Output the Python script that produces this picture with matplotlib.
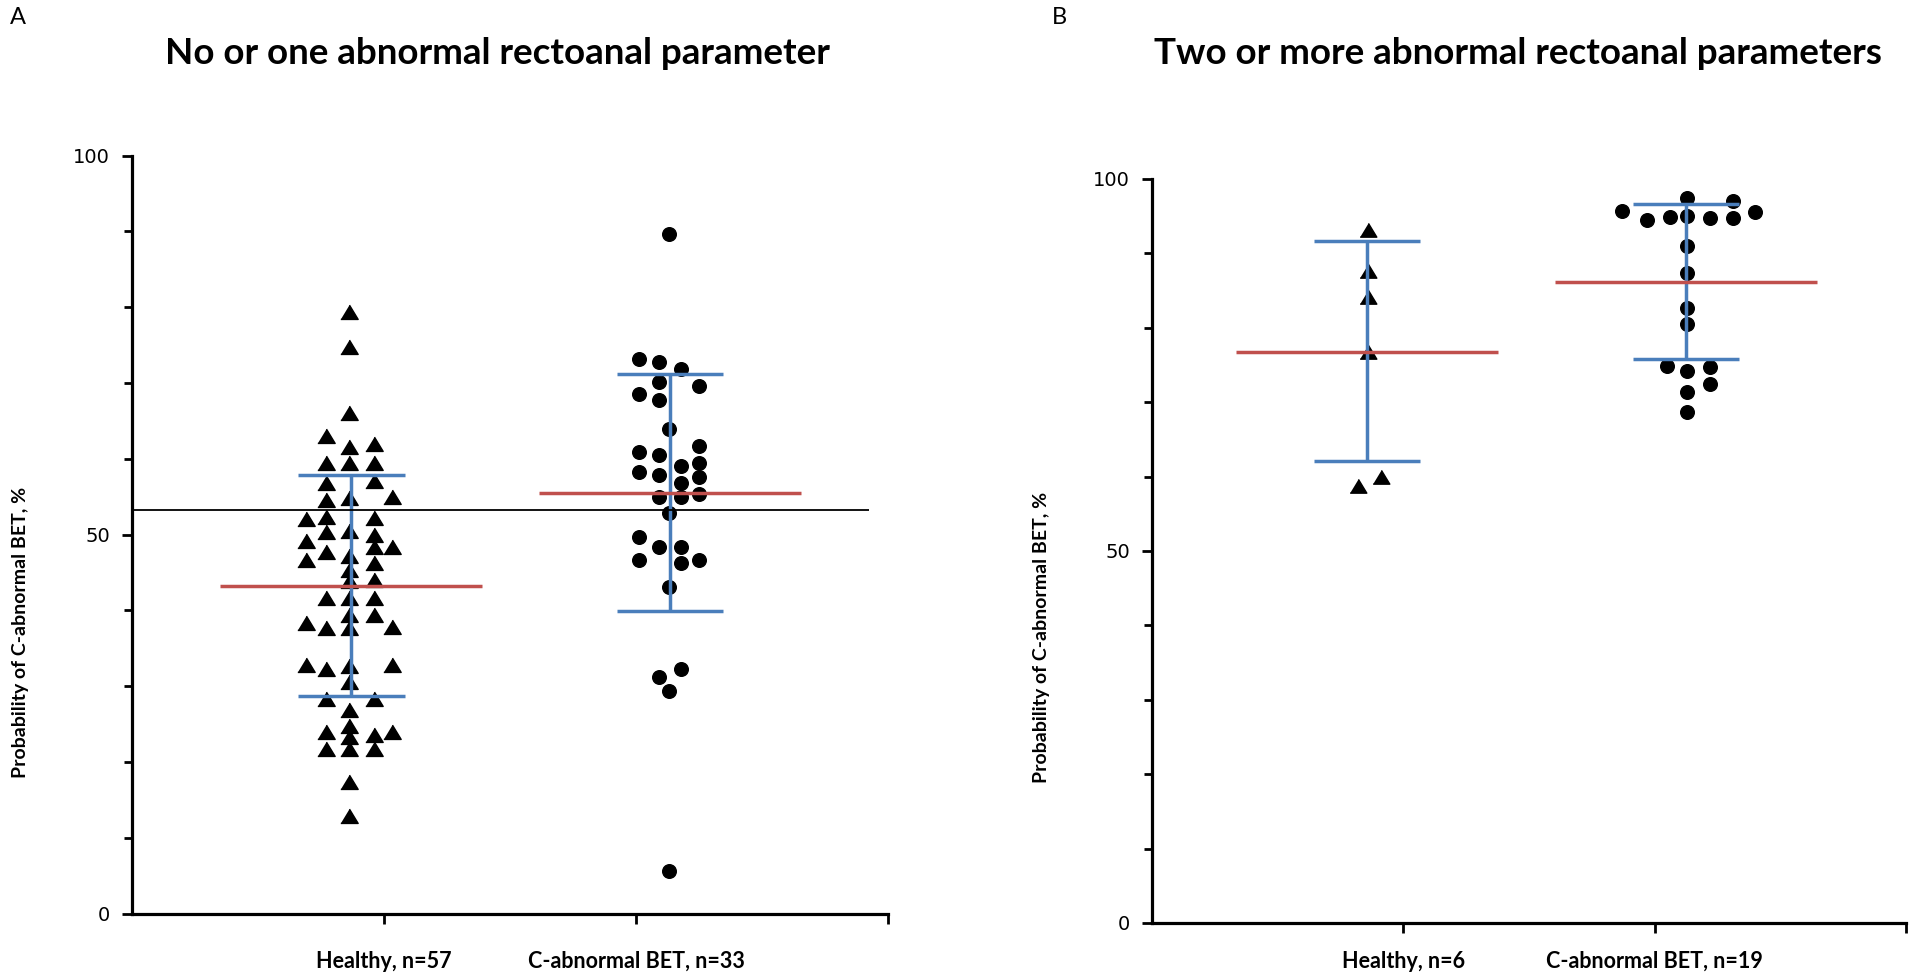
import matplotlib
matplotlib.use("Agg")
import matplotlib.pyplot as plt

plt.rcParams['font.family'] = ['Lato', 'DejaVu Sans']

# ---- data ----
# Panel A: no or one abnormal rectoanal parameter
healthy_a_x = [0.86, 0.86, 0.86, 0.77, 0.86, 0.96, 0.77, 0.86, 0.96, 0.96,
               0.77, 0.77, 0.86, 1.03, 0.69, 0.77, 0.96, 0.77, 0.86, 0.96,
               0.69, 0.96, 1.03, 0.77, 0.69, 0.86, 0.96, 0.86, 0.96, 0.86,
               0.77, 0.86, 0.96, 0.86, 0.96, 0.69, 0.77, 1.03, 0.86,
               0.69, 0.77, 0.86, 1.03, 0.86, 0.77, 0.96, 0.86, 0.86, 0.77,
               0.86, 0.96, 1.03, 0.77, 0.86, 0.96, 0.86, 0.86]
healthy_a_y = [79.4, 74.8, 66.0, 63.0, 61.6, 61.9, 59.4, 59.4, 59.4, 57.1,
               56.8, 54.6, 54.8, 54.9, 52.0, 52.3, 52.2, 50.3, 50.5, 49.9,
               49.1, 48.3, 48.3, 47.7, 46.6, 47.1, 46.3, 45.3, 44.0, 43.9,
               41.6, 41.6, 41.6, 39.4, 39.4, 38.3, 37.7, 37.8, 37.6,
               32.8, 32.3, 32.7, 32.8, 30.6, 28.3, 28.3, 26.8, 24.7, 23.9,
               23.3, 23.5, 23.9, 21.7, 21.7, 21.7, 17.3, 12.9]
cabn_a_x = [2.13, 2.01, 2.09, 2.18, 2.09, 2.25, 2.01, 2.09, 2.13, 2.25,
            2.01, 2.09, 2.25, 2.18, 2.01, 2.09, 2.25, 2.18, 2.09, 2.18,
            2.25, 2.13, 2.01, 2.09, 2.18, 2.01, 2.18, 2.25, 2.13, 2.18,
            2.09, 2.13, 2.13]
cabn_a_y = [89.7, 73.2, 72.7, 71.8, 70.1, 69.6, 68.6, 67.7, 63.9, 61.7,
            60.9, 60.5, 59.4, 59.0, 58.3, 57.8, 57.6, 56.8, 55.0, 54.9,
            55.3, 52.8, 49.7, 48.4, 48.4, 46.6, 46.2, 46.6, 43.1, 32.3,
            31.2, 29.3, 5.6]

# Panel B: two or more abnormal rectoanal parameters
healthy_b_x = [0.86, 0.86, 0.86, 0.86, 0.91, 0.82]
healthy_b_y = [93.1, 87.7, 84.2, 76.8, 59.9, 58.7]
cabn_b_x = [2.13, 2.31, 1.87, 2.40, 1.97, 2.06, 2.13, 2.22, 2.31, 2.13,
            2.13, 2.13, 2.13, 2.05, 2.13, 2.22, 2.22, 2.13, 2.13]
cabn_b_y = [97.5, 97.1, 95.7, 95.6, 94.5, 94.9, 95.0, 94.8, 94.8, 91.0,
            87.3, 82.6, 80.5, 74.9, 74.2, 74.7, 72.5, 71.4, 68.7]

# mean and mean +/- SD per group (as drawn)
a_center = [0.87, 2.135]
a_mean = [43.2, 55.5]
a_low = [28.7, 39.9]
a_high = [57.8, 71.2]
b_center = [0.855, 2.125]
b_mean = [76.8, 86.2]
b_low = [62.1, 75.8]
b_high = [91.6, 96.6]
a_ref = 53.2

a_labels = ['Healthy, n=57', 'C-abnormal BET, n=33']
b_labels = ['Healthy, n=6', 'C-abnormal BET, n=19']

BLUE = '#4A7EBB'
RED = '#C0504D'
tri = [(-1, -0.8), (1, -0.8), (0, 0.85)]

W, H = 1920, 973
fig = plt.figure(figsize=(W / 100, H / 100), dpi=100)


def make_axes(l, t, r, b):
    return fig.add_axes([l / W, 1 - b / H, (r - l) / W, (b - t) / H])


def style(ax, labels, xpad):
    ax.set_xlim(0, 3)
    ax.set_ylim(0, 100)
    for s in ['top', 'right']:
        ax.spines[s].set_visible(False)
    for s in ['left', 'bottom']:
        ax.spines[s].set_linewidth(2.3)
    ax.set_yticks([0, 50, 100])
    ax.set_yticklabels(['0', '50', '100'], fontfamily='DejaVu Sans', fontsize=14)
    ax.set_yticks(range(10, 100, 10), minor=True)
    ax.tick_params(axis='y', which='major', direction='out', length=7, width=2, pad=9)
    ax.tick_params(axis='y', which='minor', direction='out', length=6, width=2)
    ax.set_xticks([1, 2, 3])
    ax.set_xticklabels(labels + [''], fontweight='bold', fontsize=15.5)
    ax.tick_params(axis='x', direction='out', length=7, width=2, pad=xpad)


def stats(ax, centers, means, lows, highs):
    for c, m, lo, hi in zip(centers, means, lows, highs):
        ax.vlines(c, lo, hi, color=BLUE, lw=2.5, zorder=3)
        ax.hlines([lo, hi], c - 0.212, c + 0.212, color=BLUE, lw=2.5, zorder=3)
        ax.hlines(m, c - 0.52, c + 0.52, color=RED, lw=2.5, zorder=4)


# Panel A
ax1 = make_axes(132, 155.5, 888, 913.5)
ax1.plot(healthy_a_x, healthy_a_y, ls='none', marker=tri, ms=12.5, color='black', zorder=2)
ax1.plot(cabn_a_x, cabn_a_y, ls='none', marker='o', ms=9.8, color='black', zorder=2)
stats(ax1, a_center, a_mean, a_low, a_high)
ax1.hlines(a_ref, 0, 2.925, color='black', lw=1.3, zorder=5)
style(ax1, a_labels, 20)

# Panel B
ax2 = make_axes(1152, 179, 1906, 923)
ax2.plot(healthy_b_x, healthy_b_y, ls='none', marker=tri, ms=12, color='black', zorder=2)
ax2.plot(cabn_b_x, cabn_b_y, ls='none', marker='o', ms=9.8, color='black', zorder=2)
stats(ax2, b_center, b_mean, b_low, b_high)
style(ax2, b_labels, 13)

fig.text(497 / W, 1 - 54 / H, 'No or one abnormal rectoanal parameter',
         ha='center', va='center', fontsize=26.5, fontweight='bold')
fig.text(1518 / W, 1 - 54 / H, 'Two or more abnormal rectoanal parameters',
         ha='center', va='center', fontsize=26.5, fontweight='bold')
fig.text(18 / W, 1 - 18 / H, 'A', ha='center', va='center', fontsize=17)
fig.text(1059 / W, 1 - 18 / H, 'B', ha='center', va='center', fontsize=17)
fig.text(21 / W, 1 - 632 / H, 'Probability of C-abnormal BET, %', rotation=90,
         ha='center', va='center', fontsize=14, fontweight='bold')
fig.text(1042 / W, 1 - 637 / H, 'Probability of C-abnormal BET, %', rotation=90,
         ha='center', va='center', fontsize=14, fontweight='bold')

fig.savefig('out.png', dpi=100, facecolor='white')
